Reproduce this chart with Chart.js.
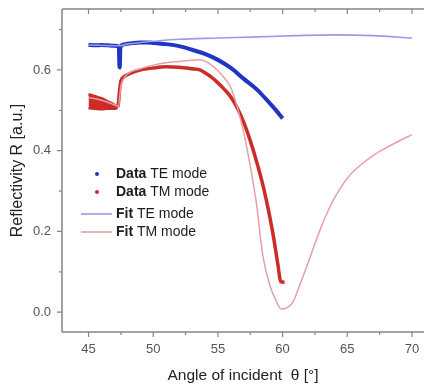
<!DOCTYPE html>
<html>
<head>
<meta charset="utf-8">
<script src="https://cdn.jsdelivr.net/npm/chart.js@4/dist/chart.umd.min.js"></script>
<style>
  html, body { margin: 0; padding: 0; background: #fff; }
  #wrap { width: 424px; height: 388px; }
</style>
</head>
<body>
<div id="wrap"><canvas id="chart" width="424" height="388"></canvas></div>
<script>
// measured TE data (blue)
const teDataX = [45, 45.5, 46, 46.5, 47, 47.34, 47.39, 47.42, 47.46, 47.7, 48, 48.5, 49, 49.5, 50, 51, 52, 53, 54, 55, 56, 57, 58, 59, 59.5, 60];
const teDataY = [0.662, 0.661, 0.662, 0.661, 0.660, 0.658, 0.608, 0.606, 0.655, 0.663, 0.665, 0.667, 0.668, 0.668, 0.667, 0.664, 0.659, 0.650, 0.640, 0.625, 0.605, 0.578, 0.552, 0.518, 0.500, 0.480];

// measured TM data (red)
const tmBlobX = [45, 45.5, 46, 46.5, 47, 47.25];
const tmBlobTop = [0.540, 0.535, 0.530, 0.522, 0.514, 0.508];
const tmBlobBottom = [0.505, 0.504, 0.503, 0.504, 0.504, 0.506];
const tmDataX = [47.25, 47.32, 47.4, 47.5, 47.7, 48, 48.5, 49, 50, 51, 52, 53, 53.6, 54, 54.5, 55, 55.5, 56, 56.5, 57, 57.5, 58, 58.5, 59, 59.3, 59.65, 59.85, 60.15];
const tmDataY = [0.508, 0.520, 0.550, 0.572, 0.582, 0.588, 0.595, 0.600, 0.605, 0.608, 0.607, 0.603, 0.600, 0.593, 0.582, 0.568, 0.552, 0.533, 0.506, 0.470, 0.425, 0.372, 0.312, 0.238, 0.186, 0.115, 0.076, 0.074];

// fits
const teFitX = [45, 47.4, 48, 49, 50, 52, 55, 58, 61, 64, 67, 70];
const teFitY = [0.662, 0.660, 0.664, 0.668, 0.671, 0.676, 0.679, 0.682, 0.685, 0.687, 0.685, 0.679];
const tmFitX = [45, 46, 47, 47.3, 47.5, 47.8, 48, 49, 50, 51, 52, 53, 53.6, 54, 54.5, 55, 55.5, 56, 56.5, 57, 57.5, 58, 58.25, 58.5, 59, 59.5, 59.9, 60.3, 60.8, 61.3, 62, 62.5, 63, 63.5, 64, 65, 66, 67, 68, 69, 70];
const tmFitY = [0.532, 0.525, 0.514, 0.510, 0.560, 0.582, 0.590, 0.603, 0.612, 0.618, 0.621, 0.624, 0.625, 0.622, 0.612, 0.598, 0.580, 0.556, 0.508, 0.445, 0.362, 0.265, 0.195, 0.135, 0.068, 0.028, 0.008, 0.010, 0.025, 0.065, 0.125, 0.170, 0.212, 0.250, 0.282, 0.332, 0.364, 0.388, 0.407, 0.424, 0.440];

// ticks
const xTicks = [45, 50, 55, 60, 65, 70];
const xMinor = [47.5, 52.5, 57.5, 62.5, 67.5];
const yTicks = [0.0, 0.2, 0.4, 0.6];
const yMinor = [0.1, 0.3, 0.5, 0.7];

const legendItems = [
  { bold: 'Data', rest: ' TE mode', color: '#2035c4', kind: 'dot' },
  { bold: 'Data', rest: ' TM mode', color: '#cc2b28', kind: 'dot' },
  { bold: 'Fit', rest: ' TE mode', color: '#9a9ae8', kind: 'line' },
  { bold: 'Fit', rest: ' TM mode', color: '#e6a0a4', kind: 'line' }
];

function pts(xs, ys) {
  return xs.map((x, i) => ({ x: x, y: ys[i] }));
}

// drop the extra room Chart.js keeps for edge labels
function noEdgePad(s) {
  s.paddingTop = 0;
  s.paddingBottom = 0;
  s.paddingLeft = 0;
  s.paddingRight = 0;
}

const axisColor = '#858585';
const FONT = '"Liberation Sans", Arial, sans-serif';

// frame, tick marks and legend
const framePlugin = {
  id: 'frame',
  afterDraw(chart) {
    const ctx = chart.ctx;
    const a = chart.chartArea;
    const xs = chart.scales.x, ys = chart.scales.y;
    ctx.save();
    ctx.strokeStyle = axisColor;
    ctx.lineWidth = 1.5;
    ctx.beginPath();
    ctx.moveTo(a.left, a.top); ctx.lineTo(a.right, a.top);
    ctx.moveTo(a.left, a.top); ctx.lineTo(a.left, a.bottom);
    ctx.moveTo(a.left, a.bottom); ctx.lineTo(a.right, a.bottom);
    ctx.stroke();

    ctx.lineWidth = 1.2;
    ctx.beginPath();
    xTicks.forEach(v => {
      const px = xs.getPixelForValue(v);
      ctx.moveTo(px, a.bottom); ctx.lineTo(px, a.bottom + 5);
      ctx.moveTo(px, a.top); ctx.lineTo(px, a.top + 5);
    });
    xMinor.forEach(v => {
      const px = xs.getPixelForValue(v);
      ctx.moveTo(px, a.bottom); ctx.lineTo(px, a.bottom + 3);
      ctx.moveTo(px, a.top); ctx.lineTo(px, a.top + 3);
    });
    yTicks.forEach(v => {
      const py = ys.getPixelForValue(v);
      ctx.moveTo(a.left, py); ctx.lineTo(a.left - 5, py);
    });
    yMinor.forEach(v => {
      const py = ys.getPixelForValue(v);
      ctx.moveTo(a.left, py); ctx.lineTo(a.left - 3, py);
    });
    ctx.stroke();

    // legend
    const rows = [174, 192, 214, 232];
    ctx.textBaseline = 'middle';
    legendItems.forEach((it, i) => {
      const y = rows[i];
      if (it.kind === 'dot') {
        ctx.fillStyle = it.color;
        ctx.beginPath();
        ctx.arc(97, y, 2, 0, Math.PI * 2);
        ctx.fill();
      } else {
        ctx.strokeStyle = it.color;
        ctx.lineWidth = 1.6;
        ctx.beginPath();
        ctx.moveTo(81, y); ctx.lineTo(112, y);
        ctx.stroke();
      }
      ctx.fillStyle = '#1c1c1c';
      ctx.font = 'bold 14px ' + FONT;
      ctx.fillText(it.bold, 116, y);
      const w = ctx.measureText(it.bold).width;
      ctx.font = '14px ' + FONT;
      ctx.fillText(it.rest, 116 + w, y);
    });
    ctx.restore();
  }
};

new Chart(document.getElementById('chart'), {
  type: 'line',
  data: {
    datasets: [
      { data: pts(teFitX, teFitY), borderColor: '#9a9ae8', borderWidth: 1.6, pointRadius: 0, cubicInterpolationMode: 'monotone', order: 0 },
      { data: pts(tmFitX, tmFitY), borderColor: '#e6a0a4', borderWidth: 1.5, pointRadius: 0, cubicInterpolationMode: 'monotone', order: 0 },
      { data: pts(teDataX, teDataY), borderColor: '#2035c4', borderWidth: 4, pointRadius: 0, cubicInterpolationMode: 'monotone', order: 1 },
      { data: pts(tmDataX, tmDataY), borderColor: '#cc2b28', borderWidth: 3.5, pointRadius: 0, cubicInterpolationMode: 'monotone', order: 1 },
      { data: pts(tmBlobX, tmBlobTop), borderColor: '#cc2b28', borderWidth: 2.5, pointRadius: 0, backgroundColor: '#cc2b28', fill: '+1', cubicInterpolationMode: 'monotone', order: 2 },
      { data: pts(tmBlobX, tmBlobBottom), borderColor: '#cc2b28', borderWidth: 2.5, pointRadius: 0, cubicInterpolationMode: 'monotone', order: 2 }
    ]
  },
  options: {
    responsive: false,
    animation: false,
    devicePixelRatio: 1,
    layout: { padding: { top: 9, right: 0, left: 0, bottom: 0 } },
    plugins: {
      legend: { display: false },
      tooltip: { enabled: false }
    },
    scales: {
      x: {
        type: 'linear',
        min: 42.95,
        max: 70.93,
        grid: { display: false, drawTicks: false },
        border: { display: false },
        afterBuildTicks: s => { s.ticks = xTicks.map(v => ({ value: v })); },
        afterFit: s => { s.height = 56; noEdgePad(s); },
        ticks: {
          padding: 10,
          color: '#555',
          font: { family: FONT, size: 13 },
          callback: v => String(v)
        },
        title: {
          display: true,
          text: 'Angle of incident  θ [°]',
          color: '#222',
          font: { family: FONT, size: 15.5 },
          padding: { top: 0, bottom: 3 }
        }
      },
      y: {
        min: -0.049,
        max: 0.751,
        grid: { display: false, drawTicks: false },
        border: { display: false },
        afterBuildTicks: s => { s.ticks = yTicks.map(v => ({ value: v })); },
        afterFit: s => { s.width = 62; noEdgePad(s); },
        ticks: {
          padding: 11,
          color: '#555',
          font: { family: FONT, size: 13 },
          callback: v => v.toFixed(1)
        },
        title: {
          display: true,
          text: 'Reflectivity R [a.u.]',
          color: '#222',
          font: { family: FONT, size: 16 },
          padding: { top: 8, bottom: 0 }
        }
      }
    }
  },
  plugins: [framePlugin]
});
</script>
</body>
</html>
